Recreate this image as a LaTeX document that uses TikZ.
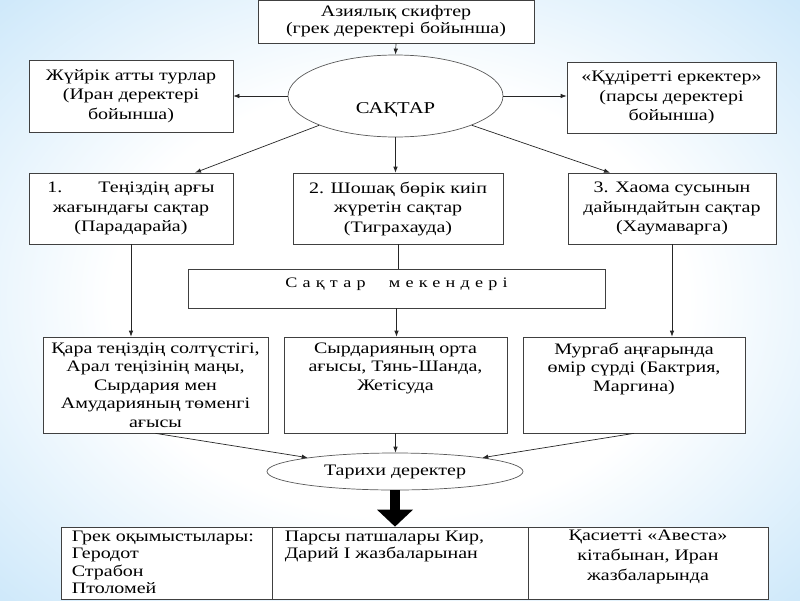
\documentclass[tikz,border=0pt]{standalone}
\usepackage{fontspec}
\setmainfont{Liberation Serif}[FakeStretch=1.25]
\usetikzlibrary{shapes.geometric,arrows.meta,calc}
\definecolor{bgblue}{RGB}{135,198,242}
\definecolor{bgdeep}{RGB}{118,187,238}
\definecolor{bgmid}{RGB}{188,224,248}
\pgfdeclareradialshading{bgshade}{\pgfpoint{0bp}{0bp}}{color(0bp)=(white); color(18bp)=(white); color(42bp)=(bgmid); color(58bp)=(bgblue); color(71bp)=(bgdeep)}
\begin{document}
\begin{tikzpicture}[x=1pt,y=-1pt,
  box/.style={draw=black!75, line width=0.7pt, fill=white, inner sep=0pt},
  oval/.style={ellipse, draw=black!65, line width=0.7pt, fill=white, inner sep=0pt},
  arr/.style={draw=black!85, line width=0.7pt, -{Latex[length=6pt,width=4.5pt]}},
  ln/.style={draw=black!85, line width=0.7pt},
  txt/.style={font=\fontsize{16}{19.5}\selectfont, align=center},
  toptxt/.style={inner sep=0pt, anchor=north, yshift=-6pt, font=\fontsize{16}{18.5}\selectfont, align=center}
]
\useasboundingbox (0,0) rectangle (800,600);
\shade[shading=bgshade] (0,0) rectangle (800,600);

% top row
\node[box, txt, font=\fontsize{16}{17}\selectfont, minimum width=276pt, minimum height=43pt] (top) at (396,21.5) {Азиялық скифтер\\(грек деректері бойынша)};
\node[oval, minimum width=215pt, minimum height=82pt,
  label={[yshift=-14pt, font=\fontsize{16.5}{18}\selectfont]center:САҚТАР}] (sak) at (395.5,96) {};
\node[box, txt, minimum width=204pt, minimum height=72pt] (lt) at (131,96) {Жүйрік атты турлар\\(Иран деректері\\бойынша)};
\node[box, txt, minimum width=209pt, minimum height=71pt] (rt) at (671.5,97.5) {«Құдіретті еркектер»\\(парсы деректері\\бойынша)};

% second row
\node[box, txt, minimum width=204pt, minimum height=71pt] (b1) at (131,208.5) {1.\hspace{36pt}Теңіздің арғы\\жағындағы сақтар\\(Парадарайа)};
\node[box, txt, minimum width=210pt, minimum height=71pt] (b2) at (398,208.5) {2. Шошақ бөрік киіп\\жүретін сақтар\\(Тиграхауда)};
\node[box, txt, minimum width=208pt, minimum height=71pt] (b3) at (672,208.5) {3. Хаома сусынын\\дайындайтын сақтар\\(Хаумаварга)};

% habitats
\node[box, minimum width=417pt, minimum height=39pt,
  label={[yshift=4pt, font=\fontsize{14.5}{16}\selectfont\addfontfeature{LetterSpace=36}]center:Сақтар\hspace{1.6em}мекендері}] (mek) at (396.5,288.5) {};

% third row
\node[box, minimum width=225pt, minimum height=96pt,
  label={[toptxt]north:Қара теңіздің солтүстігі,\\Арал теңізінің маңы,\\Сырдария мен\\Амударияның төменгі\\ағысы}] (c1) at (155.5,385) {};
\node[box, minimum width=223pt, minimum height=96pt,
  label={[toptxt]north:Сырдарияның орта\\ағысы, Тянь-Шанда,\\Жетісуда}] (c2) at (395.5,385) {};
\node[box, minimum width=222pt, minimum height=96pt,
  label={[toptxt]north:Мургаб аңғарында\\өмір сүрді (Бактрия,\\Маргина)}] (c3) at (634,385) {};

% historical sources
\node[oval, txt, minimum width=256pt, minimum height=37pt] (tar) at (395,471.5) {Тарихи деректер};

% bottom table
\node[box, minimum width=211pt, minimum height=72pt,
  label={[inner sep=0pt, anchor=north west, xshift=11pt, yshift=-4pt, font=\fontsize{16}{17.5}\selectfont, align=left]north west:Грек оқымыстылары:\\Геродот\\Страбон\\Птоломей}] (t1) at (166.5,563) {};
\node[box, minimum width=256pt, minimum height=72pt,
  label={[inner sep=0pt, anchor=north west, xshift=13pt, yshift=-4pt, font=\fontsize{16}{17.5}\selectfont, align=left]north west:Парсы патшалары Кир,\\Дарий I жазбаларынан}] (t2) at (400,563) {};
\node[box, minimum width=240pt, minimum height=72pt,
  label={[inner sep=0pt, anchor=north, yshift=-3pt, font=\fontsize{16}{20}\selectfont, align=center]north:Қасиетті «Авеста»\\кітабынан, Иран\\жазбаларында}] (t3) at (648,563) {};

% connectors
\draw[arr] (top.south) -- (sak.north);
\draw[arr] (sak.west) -- (sak.west -| lt.east);
\draw[arr] (sak.east) -- (sak.east -| rt.west);
\draw[arr] (sak.south west) -- ($(b1.north)+(64,0)$);
\draw[arr] (sak.south) -- (sak.south |- b2.north);
\draw[arr] (sak.south east) -- ($(b3.north)+(-62,0)$);
\draw[arr] (b1.south) -- (b1.south |- c1.north);
\draw[ln] (b2.south) -- (b2.south |- mek.north);
\draw[arr] (mek.south) -- (mek.south |- c2.north);
\draw[arr] (b3.south) -- (b3.south |- c3.north);
\draw[arr] (c1.south) -- (tar.171);
\draw[arr] (c2.south) -- (c2.south |- tar.north);
\draw[arr] (c3.south) -- (tar.9);
\draw[line width=10pt, -{Triangle[width=35pt,length=17pt]}] (tar.south) -- (tar.south |- t2.north);
\end{tikzpicture}
\end{document}
